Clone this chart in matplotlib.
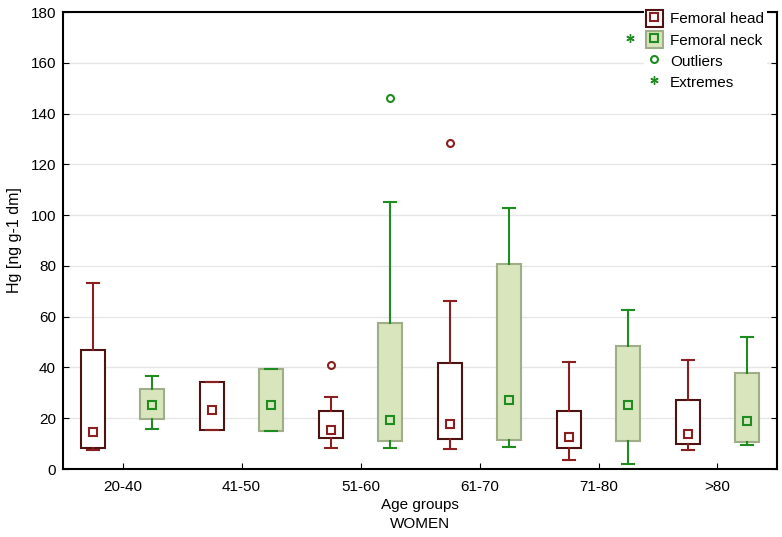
import matplotlib
matplotlib.use("Agg")
import matplotlib.pyplot as plt
from matplotlib.patches import Rectangle
from matplotlib.lines import Line2D

plt.rcParams['font.family'] = ['Liberation Sans', 'DejaVu Sans']

groups = ['20-40', '41-50', '51-60', '61-70', '71-80', '>80']

# femoral head: median, q1, q3, whisker low, whisker high, outliers
head_med = [14.7, 23.3, 15.3, 17.7, 12.7, 13.9]
head_q1 = [8.4, 15.3, 12.3, 11.8, 8.4, 9.7]
head_q3 = [46.8, 34.3, 22.8, 41.9, 22.7, 27.0]
head_lo = [7.5, 15.3, 8.3, 8.0, 3.7, 7.3]
head_hi = [73.4, 34.3, 28.3, 66.0, 42.2, 43.0]
head_out = [[], [], [40.8], [128.5], [], []]

# femoral neck
neck_med = [25.2, 25.2, 19.5, 27.1, 25.2, 18.9]
neck_q1 = [19.8, 14.9, 11.1, 11.4, 11.0, 10.7]
neck_q3 = [31.4, 39.3, 57.5, 80.7, 48.5, 38.0]
neck_lo = [15.9, 14.9, 8.3, 8.8, 2.1, 9.6]
neck_hi = [36.7, 39.3, 105.0, 103.0, 62.8, 51.9]
neck_out = [[], [], [146.2], [], [], []]

head_edge = '#4f1212'
head_col = '#8b1f1f'
neck_edge = '#9fad88'
neck_face = '#d9e5bd'
neck_col = '#1f8c1f'


def make_stats(med, q1, q3, lo, hi, out):
    stats = []
    for i in range(len(med)):
        stats.append({'med': med[i], 'q1': q1[i], 'q3': q3[i],
                      'whislo': lo[i], 'whishi': hi[i],
                      'fliers': out[i], 'mean': med[i]})
    return stats


fig = plt.figure(figsize=(7.82, 5.37), dpi=100)
ax = fig.add_axes([0.0806, 0.1266, 0.913, 0.851])

x = list(range(len(groups)))

ax.bxp(make_stats(head_med, head_q1, head_q3, head_lo, head_hi, head_out),
       positions=[i - 0.25 for i in x], widths=0.2, patch_artist=True,
       showmeans=True,
       boxprops=dict(facecolor='white', edgecolor=head_edge, linewidth=1.5),
       whiskerprops=dict(color=head_col, linewidth=1.5),
       capprops=dict(color=head_col, linewidth=1.5),
       medianprops=dict(linestyle='none'),
       meanprops=dict(marker='s', markersize=5.5, markerfacecolor='none',
                      markeredgecolor=head_col, markeredgewidth=1.5),
       flierprops=dict(marker='o', markersize=5, markerfacecolor='none',
                       markeredgecolor=head_col, markeredgewidth=1.5))

ax.bxp(make_stats(neck_med, neck_q1, neck_q3, neck_lo, neck_hi, neck_out),
       positions=[i + 0.25 for i in x], widths=0.2, patch_artist=True,
       showmeans=True,
       boxprops=dict(facecolor=neck_face, edgecolor=neck_edge, linewidth=1.5),
       whiskerprops=dict(color=neck_col, linewidth=1.5),
       capprops=dict(color=neck_col, linewidth=1.5),
       medianprops=dict(linestyle='none'),
       meanprops=dict(marker='s', markersize=5.5, markerfacecolor='none',
                      markeredgecolor=neck_col, markeredgewidth=1.5),
       flierprops=dict(marker='o', markersize=5, markerfacecolor='none',
                       markeredgecolor=neck_col, markeredgewidth=1.5))

ax.set_xlim(-0.5, 5.5)
ax.set_ylim(0, 180)
ax.set_xticks(x)
ax.set_xticklabels(groups, fontsize=11)
ax.set_yticks(range(0, 181, 20))
ax.tick_params(axis='y', labelsize=11, direction='in', right=True, length=4, pad=5)
ax.tick_params(axis='x', direction='in', length=4, pad=8)
ax.yaxis.grid(True, color='#e6e6e6', linewidth=1)
ax.set_axisbelow(True)
for s in ax.spines.values():
    s.set_linewidth(1.5)

ax.set_xlabel('Age groups\nWOMEN', fontsize=11, labelpad=3, linespacing=1.45)
ax.set_ylabel('Hg [ng g-1 dm]', fontsize=11.5, labelpad=6)

h_head = (Rectangle((0, 0), 1, 1, facecolor='white', edgecolor=head_edge, linewidth=1.5),
          Line2D([], [], linestyle='none', marker='s', markersize=5.5,
                 markerfacecolor='none', markeredgecolor=head_col, markeredgewidth=1.5))
h_neck = (Rectangle((0, 0), 1, 1, facecolor=neck_face, edgecolor=neck_edge, linewidth=1.5),
          Line2D([], [], linestyle='none', marker='s', markersize=5.5,
                 markerfacecolor='none', markeredgecolor=neck_col, markeredgewidth=1.5))
h_out = Line2D([], [], linestyle='none', marker='o', markersize=5,
               markerfacecolor='none', markeredgecolor=neck_col, markeredgewidth=1.5)
h_ext = Line2D([], [], linestyle='none', marker=(6, 2, 0), markersize=6,
               markeredgecolor=neck_col, markeredgewidth=1)

leg = ax.legend([h_head, h_neck, h_out, h_ext],
                ['Femoral head', 'Femoral neck', 'Outliers', 'Extremes'],
                loc='upper right', bbox_to_anchor=(0.99, 1.0),
                bbox_transform=fig.transFigure, frameon=True, fontsize=11,
                handlelength=1.1, handleheight=1.3, handletextpad=0.5,
                labelspacing=0.3, borderpad=0.15)
leg.get_frame().set_facecolor('white')
leg.get_frame().set_edgecolor('none')
leg.get_frame().set_alpha(1)

ax.plot([0.794], [0.943], transform=ax.transAxes, linestyle='none',
        marker=(6, 2, 0), markersize=6, markeredgecolor=neck_col,
        markeredgewidth=1, clip_on=False)

fig.savefig('out.png', dpi=100)
